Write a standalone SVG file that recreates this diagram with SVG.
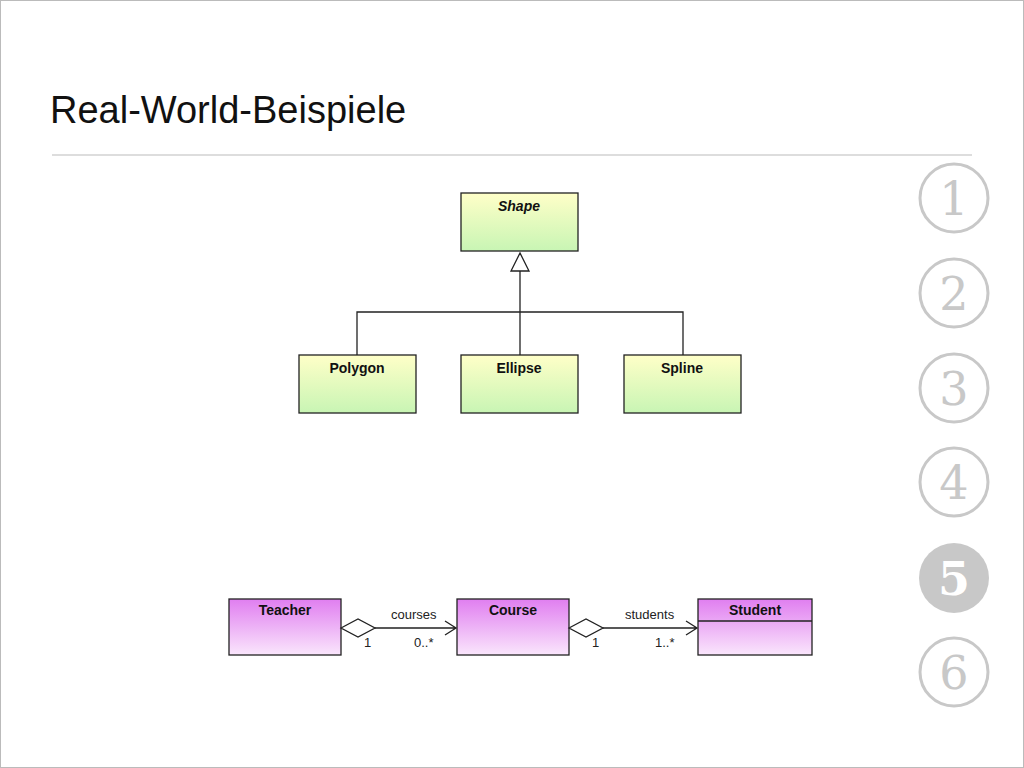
<svg xmlns="http://www.w3.org/2000/svg" width="1024" height="768" viewBox="0 0 1024 768">
<defs>
<linearGradient id="g" x1="0" y1="0" x2="0" y2="1"><stop offset="0" stop-color="#ffffc8"/><stop offset="1" stop-color="#c8f5b4"/></linearGradient>
<linearGradient id="p" x1="0" y1="0" x2="0" y2="1"><stop offset="0" stop-color="#e07ef0"/><stop offset="1" stop-color="#fae6fc"/></linearGradient>
<style>
.b{stroke:#222;stroke-width:1.3}
.t{font-family:"Liberation Sans",Arial,sans-serif;font-size:14px;font-weight:bold;text-anchor:middle;fill:#111}
.s{font-family:"Liberation Sans",Arial,sans-serif;font-size:13px;fill:#222}
.l{stroke:#222;stroke-width:1.3;fill:none}
.c{fill:none;stroke:#c8c8c8;stroke-width:3}
.n{font-family:"DejaVu Serif","Liberation Serif",serif;font-size:46px;fill:#c8c8c8;text-anchor:middle}
</style>
</defs>
<rect width="1024" height="768" fill="#fff"/>
<rect x="0.5" y="0.5" width="1023" height="767" fill="none" stroke="#bbb"/>
<text x="50" y="123" font-family="Helvetica,'Liberation Sans',Arial,sans-serif" font-size="38" fill="#111">Real-World-Beispiele</text>
<line x1="52" y1="155" x2="972" y2="155" stroke="#bbb"/>
<g id="shape"><rect x="461" y="193" width="117" height="58" fill="url(#g)" class="b"/><text x="519" y="211" class="t" font-style="italic">Shape</text></g>
<g id="polygon"><rect x="299" y="355" width="117" height="58" fill="url(#g)" class="b"/><text x="357" y="373" class="t">Polygon</text></g>
<g id="ellipse"><rect x="461" y="355" width="117" height="58" fill="url(#g)" class="b"/><text x="519" y="373" class="t">Ellipse</text></g>
<g id="spline"><rect x="624" y="355" width="117" height="58" fill="url(#g)" class="b"/><text x="682" y="373" class="t">Spline</text></g>
<g id="teacher"><rect x="229" y="599" width="112" height="56" fill="url(#p)" class="b"/><text x="285" y="615" class="t">Teacher</text></g>
<g id="course"><rect x="457" y="599" width="112" height="56" fill="url(#p)" class="b"/><text x="513" y="615" class="t">Course</text></g>
<g id="student"><rect x="698" y="599" width="114" height="56" fill="url(#p)" class="b"/><line x1="698" y1="621" x2="812" y2="621" class="b"/><text x="755" y="615" class="t">Student</text></g>
<g id="connectors">
<polygon points="520,253 511,271 529,271" fill="#fff" class="b"/>
<path d="M520 271V355M357 355V312H683V355" class="l"/>
<polygon points="341,628 358,619 375,628 358,637" fill="#fff" class="b"/>
<path d="M375 628H456M445 621L456 628L445 635" class="l"/>
<polygon points="569,628 586,619 603,628 586,637" fill="#fff" class="b"/>
<path d="M603 628H697M686 621L697 628L686 635" class="l"/>
<text x="391" y="619" class="s">courses</text><text x="364" y="647" class="s">1</text><text x="414" y="647" class="s">0..*</text>
<text x="625" y="619" class="s">students</text><text x="592" y="647" class="s">1</text><text x="655" y="647" class="s">1..*</text>
</g>
<g id="nav">
<circle cx="954" cy="198" r="34" class="c"/><text x="954" y="215" class="n">1</text>
<circle cx="954" cy="293" r="34" class="c"/><text x="954" y="310" class="n">2</text>
<circle cx="954" cy="388" r="34" class="c"/><text x="954" y="405" class="n">3</text>
<circle cx="954" cy="482" r="34" class="c"/><text x="954" y="499" class="n">4</text>
<circle cx="954" cy="578" r="35" fill="#c8c8c8"/><text x="954" y="595" class="n" fill="#fff" style="fill:#fff" font-weight="bold">5</text>
<circle cx="954" cy="672" r="34" class="c"/><text x="954" y="689" class="n">6</text>
</g>
</svg>
